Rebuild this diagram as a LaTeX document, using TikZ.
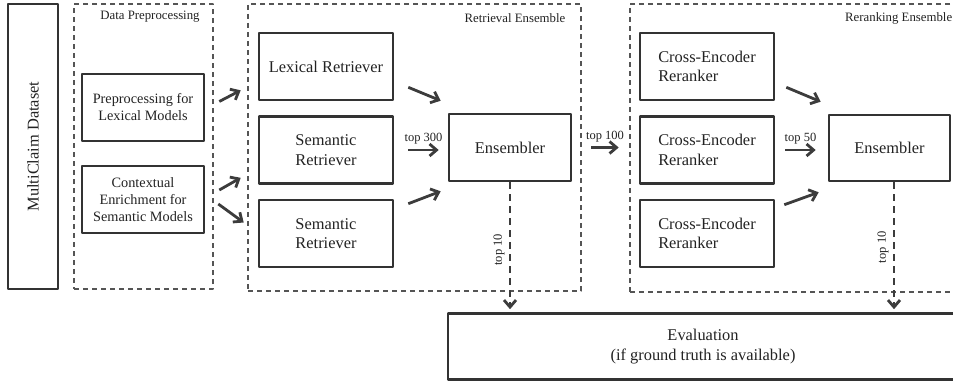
\documentclass[tikz,border=0pt]{standalone}
\usepackage{fontspec}
\setmainfont{Liberation Serif}
\usetikzlibrary{arrows.meta}

\definecolor{boxgray}{HTML}{333333}
\definecolor{arrgray}{HTML}{3C3C3C}
\definecolor{grpgray}{HTML}{555555}
\definecolor{txtgray}{HTML}{222222}

\tikzset{
  box/.style={draw=boxgray, line width=2.6pt, minimum width=134pt, minimum height=67pt,
    text=txtgray, font=\fontsize{16.4}{19.5}\selectfont, align=center, inner sep=2pt},
  prepbox/.style={box, minimum width=122pt, font=\fontsize{14.3}{17}\selectfont},
  group/.style={draw=grpgray, line width=1.2pt, dash pattern=on 5pt off 4pt, inner sep=0pt},
  grplabel/.style={text=txtgray, font=\fontsize{12.8}{14}\selectfont, inner sep=0pt},
  toplabel/.style={text=txtgray, font=\fontsize{12.5}{14}\selectfont, inner sep=2pt},
  arr/.style={draw=arrgray, line width=2.8pt, -{Straight Barb[length=7pt,width=12pt]}},
  dasharr/.style={arr, dash pattern=on 7pt off 5pt}
}

\begin{document}
\begin{tikzpicture}[x=1pt, y=-1pt, line join=round]
\useasboundingbox (0,0) rectangle (953,383);
\clip (0,0) rectangle (953,383);

% dataset
\node[box, rotate=90, minimum width=285pt, minimum height=50pt] (data) at (33,146.5) {MultiClaim Dataset};

% groups
\node[group, minimum width=139pt, minimum height=285pt] (prepgrp) at (143.5,146.5) {};
\node[group, minimum width=333pt, minimum height=287pt] (retrgrp) at (414.5,147.5) {};
\node[group, minimum width=340pt, minimum height=288pt] (rankgrp) at (800,148) {};
\node[grplabel] (preplbl) at (150,17) {Data Preprocessing};
\node[grplabel] (retrlbl) at (515,18) {Retrieval Ensemble};
\node[grplabel, anchor=west] (ranklbl) at (845,18) {Reranking Ensemble};

% preprocessing
\node[prepbox] (pre1) at (143,107.5) {Preprocessing for\\Lexical Models};
\node[prepbox] (pre2) at (143,199.5) {Contextual\\Enrichment for\\Semantic Models};

% retrievers
\node[box] (lex) at (326,66.5) {Lexical Retriever};
\node[box] (sem1) at (326,150) {Semantic\\Retriever};
\node[box] (sem2) at (326,233.5) {Semantic\\Retriever};
\node[box, minimum width=122pt] (ens1) at (510,147.5) {Ensembler};

% rerankers
\node[box, align=left] (ce1) at (707,66.5) {Cross-Encoder\\Reranker};
\node[box, align=left] (ce2) at (707,150) {Cross-Encoder\\Reranker};
\node[box, align=left] (ce3) at (707,233.5) {Cross-Encoder\\Reranker};
\node[box, minimum width=121pt, minimum height=66pt] (ens2) at (889.5,148) {Ensembler};

% evaluation
\node[box, minimum width=510pt, minimum height=66pt] (eval) at (703,346.5) {Evaluation\\(if ground truth is available)};

% arrows
\draw[arr] ([shift={(14,-6)}]pre1.east) -- ([shift={(-17,-11)}]lex.south west);
\draw[arr] ([shift={(14,-9.5)}]pre2.east) -- ([shift={(-17,-7)}]sem1.south west);
\draw[arr] ([shift={(13,4.5)}]pre2.east) -- ([shift={(-14,-11)}]sem2.west);

\draw[arr] ([shift={(14,-14)}]lex.south east) -- ([shift={(-7,-12)}]ens1.north west);
\draw[arr] ([xshift=14pt]sem1.east) -- ([xshift=-9pt]sem1.east -| ens1.west)
  node[toplabel, midway, above=2pt] (t300) {top 300};
\draw[arr] ([shift={(14,5)}]sem2.north east) -- ([shift={(-7,9)}]ens1.south west);

\draw[arr] ([xshift=19pt]ens1.east) -- ([xshift=-20pt]ens1.east -| ce2.west)
  node[toplabel, midway, above=2pt] (t100) {top 100};

\draw[arr] ([shift={(11,-14)}]ce1.south east) -- ([shift={(-7,-12)}]ens2.north west);
\draw[arr] ([xshift=10pt]ce2.east) -- ([xshift=-12pt]ce2.east -| ens2.west)
  node[toplabel, midway, above=2pt] (t50) {top 50};
\draw[arr] ([shift={(9,6)}]ce3.north east) -- ([shift={(-9,10)}]ens2.south west);

% to evaluation
\draw[dasharr, shorten >=3pt] (ens1.south) -- (ens1.south |- eval.north)
  node[toplabel, pos=0.52, rotate=90, anchor=south, inner sep=4pt] (t10a) {top 10};
\draw[dasharr, shorten >=3pt] ([xshift=4.5pt]ens2.south) -- ([xshift=4.5pt]ens2.south |- eval.north)
  node[toplabel, pos=0.5, rotate=90, anchor=south, inner sep=4pt] (t10b) {top 10};
\end{tikzpicture}
\end{document}
